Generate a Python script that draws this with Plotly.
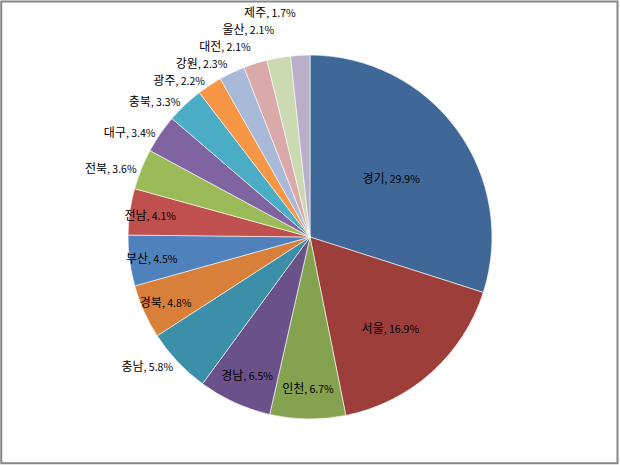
import plotly.graph_objects as go

# regional share (%), clockwise from 12 o'clock
regions = ['경기', '서울', '인천', '경남', '충남', '경북', '부산', '전남',
           '전북', '대구', '충북', '광주', '강원', '대전', '울산', '제주']
share = [29.9, 16.9, 6.7, 6.5, 5.8, 4.8, 4.5, 4.1,
         3.6, 3.4, 3.3, 2.2, 2.3, 2.1, 2.1, 1.7]
slice_colors = ['#3F6898', '#9D3E3B', '#84A24F', '#6B518A', '#3C8FA8', '#D8803A',
                '#4F81BD', '#C0504D', '#9BBB59', '#8064A2', '#4BACC6', '#F79646',
                '#A9B9D8', '#D9AAA9', '#CBDAB0', '#BAAFCA']
text_pos = ['inside', 'inside', 'inside', 'inside', 'outside', 'inside', 'inside', 'inside',
            'outside', 'outside', 'outside', 'outside', 'outside', 'outside', 'outside', 'outside']

labels = ['%s<span style="font-size:10.5px">, %.1f%%</span>' % (r, s) for r, s in zip(regions, share)]

fnt = dict(family='Noto Sans CJK KR', size=12, color='black')

fig = go.Figure()
fig.add_trace(go.Pie(
    labels=regions,
    values=share,
    text=labels,
    textinfo='text',
    textposition=text_pos,
    insidetextorientation='horizontal',
    direction='clockwise',
    sort=False,
    rotation=0,
    automargin=False,
    marker=dict(colors=slice_colors, line=dict(color='white', width=0.6)),
    textfont=fnt,
    outsidetextfont=fnt,
    insidetextfont=fnt,
    domain=dict(x=[0.2065, 0.7935], y=[0.0989, 0.8817]),
    showlegend=False,
    hoverinfo='label+percent',
))

# outer frame of the chart area
fig.add_shape(type='rect', xref='paper', yref='paper', x0=0.002, x1=0.996, y0=0.004, y1=0.997,
              line=dict(color='#868686', width=2))

fig.update_layout(
    width=620, height=465,
    margin=dict(l=0, r=0, t=0, b=0, autoexpand=False),
    paper_bgcolor='white',
    plot_bgcolor='white',
    uniformtext=dict(minsize=12, mode='show'),
)

# Excel style: no leader lines for the outside labels
hide_lines = ("document.body.style.margin='0';"
              "document.querySelectorAll('path.textline').forEach(function(p){p.style.display='none';});")
fig.write_html("out.html", config={'displayModeBar': False}, post_script=hide_lines)
